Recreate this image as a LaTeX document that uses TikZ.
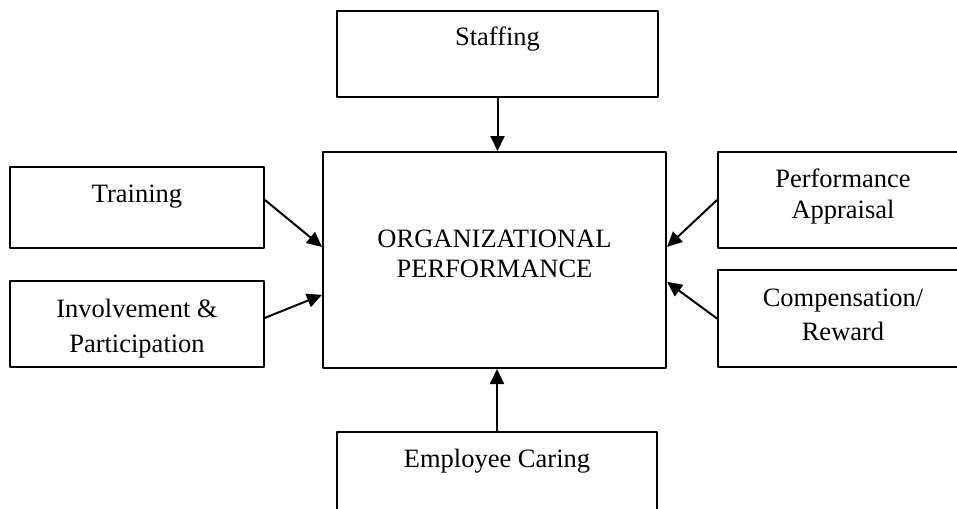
\documentclass[tikz,border=0pt]{standalone}
\usepackage{fontspec}
\setmainfont{Liberation Serif}
\usetikzlibrary{arrows.meta,calc}

\begin{document}
\begin{tikzpicture}[x=1pt, y=-1pt, line cap=round, line join=round]
	% ---- frame of the page (boxes on the border are cut) ----
	\useasboundingbox (0,0) rectangle (957,508);
	\clip (0,0) rectangle (957,508);
	
	\tikzset{factor/.style={rectangle, draw=black, line width=2pt, inner sep=0pt, anchor=north west},
		caption/.style={anchor=base, align=center, inner sep=0pt, font=\fontsize{26.5}{30.5}\selectfont},
		link/.style={line width=2pt, -{Triangle[length=15pt, width=14pt]}}}
	
	% ---- boxes ----
	\node[factor, minimum width=321pt, minimum height=86pt]  (staff) at (336,10)  {};
	\node[factor, minimum width=343pt, minimum height=216pt] (org)   at (322,151) {};
	\node[factor, minimum width=254pt, minimum height=81pt]  (train) at (9,166)   {};
	\node[factor, minimum width=254pt, minimum height=86pt]  (invol) at (9,280)   {};
	\node[factor, minimum width=250pt, minimum height=96pt]  (appr)  at (717,151) {};
	\node[factor, minimum width=250pt, minimum height=97pt]  (comp)  at (717,269) {};
	\node[factor, minimum width=320pt, minimum height=86pt]  (care)  at (336,431) {};
	
	% ---- texts (base = last line of the text) ----
	\node[caption] (staffT) at ($(staff.north)+(0,36)$)   {Staffing};
	\node[caption] (orgT)   at ($(org.north)+(0,126.5)$)  {ORGANIZATIONAL\\PERFORMANCE};
	\node[caption] (trainT) at ($(train.north)+(0,36)$)   {Training};
	\node[caption, font=\fontsize{26.5}{35}\selectfont] (involT) at ($(invol.north)+(0,72)$) {Involvement \&\\Participation};
	\node[caption, font=\fontsize{26.5}{31}\selectfont] (apprT)  at ($(appr.north)+(0,67)$)  {Performance\\Appraisal};
	\node[caption, font=\fontsize{26.5}{34}\selectfont] (compT)  at ($(comp.north)+(0,71)$)  {Compensation/\\Reward};
	\node[caption] (careT)  at ($(care.north)+(0,36)$)    {Employee Caring};
	
	% ---- arrows into the middle box ----
	\draw[link] (staff.south) -- (staff.south |- org.north);
	\draw[link] (care.north) -- (care.north |- org.south);
	\draw[link] ($(train.north east)!0.41!(train.south east)$) -- ($(org.north west)!0.44!(org.south west)$);
	\draw[link] ($(invol.north east)!0.43!(invol.south east)$) -- ($(org.north west)!0.66!(org.south west)$);
	\draw[link] (appr.west) -- ($(org.north east)!0.44!(org.south east)$);
	\draw[link] (comp.west) -- ($(org.north east)!0.6!(org.south east)$);
\end{tikzpicture}
\end{document}
